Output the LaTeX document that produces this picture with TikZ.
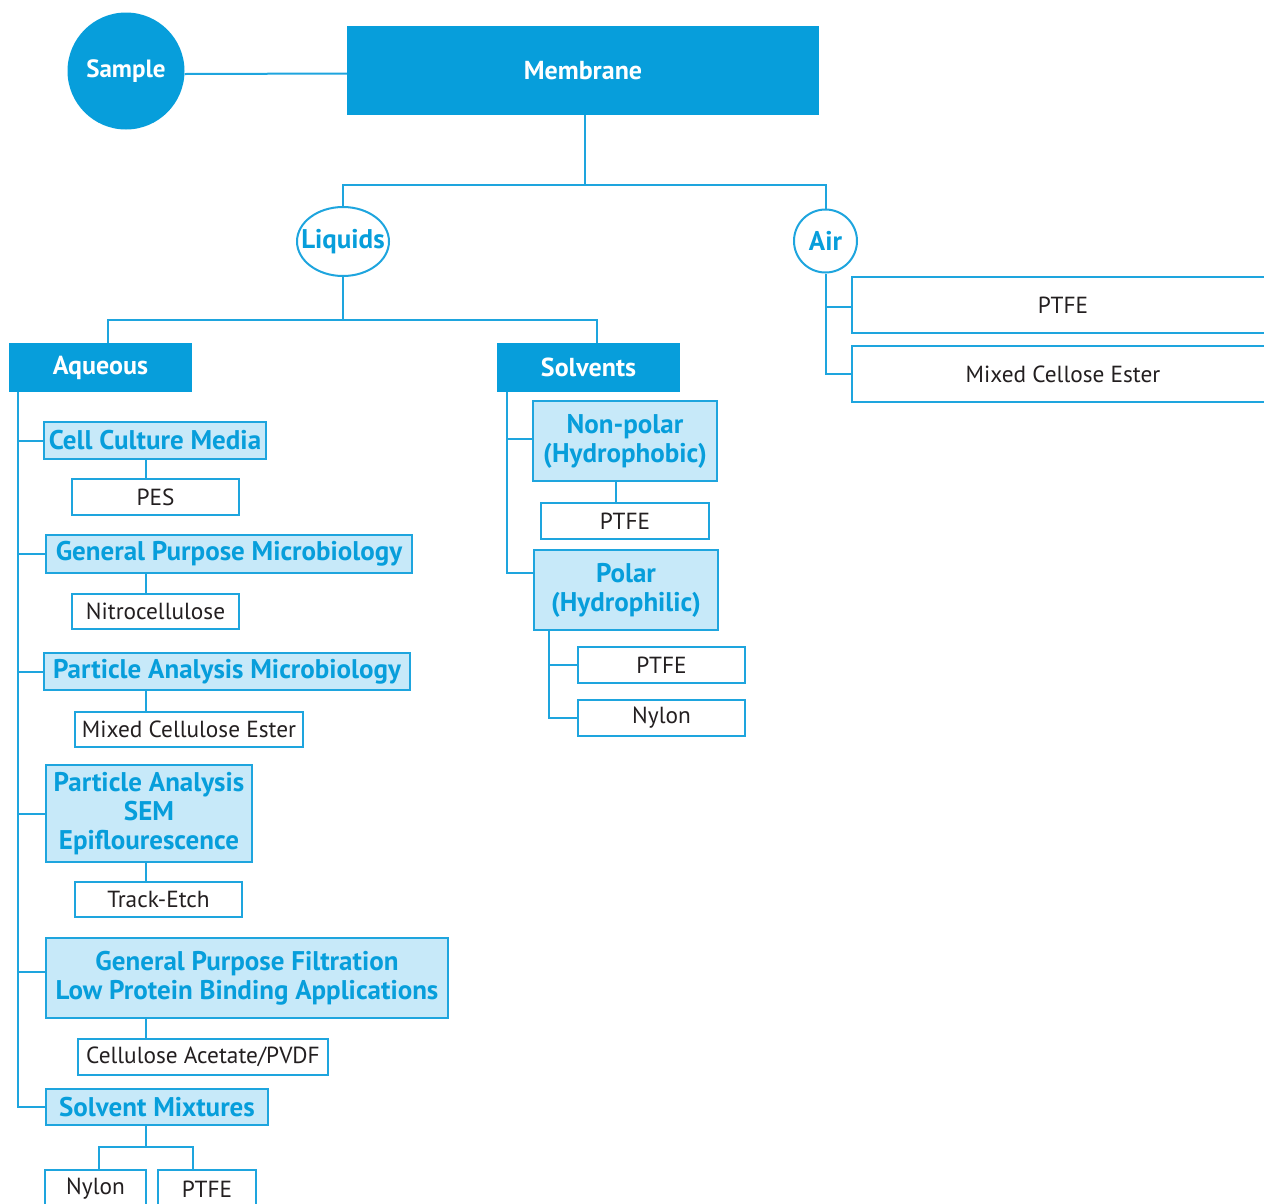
\documentclass[tikz,border=0pt]{standalone}
\usepackage{fontspec}
\setmainfont{PT Sans}
\usetikzlibrary{shapes.geometric}
\definecolor{mblue}{RGB}{7,158,219}
\definecolor{lineblue}{RGB}{30,165,222}
\definecolor{lblue}{RGB}{199,233,249}
\definecolor{txt}{RGB}{35,31,32}
\tikzset{
  conn/.style={draw=lineblue, line width=2pt},
  darkbox/.style={rectangle, fill=mblue, text=white, inner sep=0pt, font=\fontsize{26}{30}\selectfont\bfseries},
  lightbox/.style={rectangle, draw=lineblue, fill=lblue, line width=2pt, text=mblue, inner sep=0pt, align=center, font=\fontsize{27}{29}\selectfont\bfseries},
  whitebox/.style={rectangle, draw=lineblue, fill=white, line width=2pt, text=txt, inner sep=0pt, font=\fontsize{23.3}{28}\selectfont},
  roundnode/.style={draw=lineblue, fill=white, line width=2pt, text=mblue, inner sep=0pt, font=\fontsize{27}{29}\selectfont\bfseries},
}
\begin{document}
\begin{tikzpicture}[x=1pt,y=-1pt]
\useasboundingbox (0,0) rectangle (1264,1203);
\clip (0,0) rectangle (1264,1203);
% top level
\node[circle, fill=mblue, text=white, minimum size=117pt, inner sep=0pt, font=\fontsize{25}{30}\selectfont\bfseries] (sample) at (126,71) {\makebox[0pt]{Sample}};
\node[darkbox, minimum width=472pt, minimum height=89pt] (membrane) at (583,70.5) {Membrane};
\node[roundnode, ellipse, minimum width=92pt, minimum height=69pt] (liquids) at (343,241.5) {\makebox[0pt]{Liquids}};
\node[roundnode, circle, minimum size=63pt] (air) at (825.5,241) {\makebox[0pt]{Air}};
\node[darkbox, minimum width=183pt, minimum height=49pt] (aqueous) at (100.5,367.5) {Aqueous};
\node[darkbox, minimum width=183pt, minimum height=49pt] (solvents) at (588.5,367.5) {Solvents};
% aqueous children
\node[lightbox, minimum width=222pt, minimum height=37pt] (ccm) at (155,440.5) {Cell Culture Media};
\node[whitebox, minimum width=167pt, minimum height=36pt] (pes) at (155.5,497) {PES};
\node[lightbox, minimum width=366pt, minimum height=38pt] (gpm) at (229,554) {General Purpose Microbiology};
\node[whitebox, minimum width=167pt, minimum height=35pt] (nitro) at (155.5,611.5) {Nitrocellulose};
\node[lightbox, minimum width=366pt, minimum height=37pt] (pam) at (227,671.5) {Particle Analysis Microbiology};
\node[whitebox, minimum width=228pt, minimum height=35pt] (mce) at (189,729.5) {Mixed Cellulose Ester};
\node[lightbox, minimum width=206pt, minimum height=97pt] (pasem) at (149,813.5) {Particle Analysis\\SEM\\Epiflourescence};
\node[whitebox, minimum width=167pt, minimum height=35pt] (track) at (158.5,899.5) {Track-Etch};
\node[lightbox, minimum width=402pt, minimum height=80pt] (gpf) at (247,978) {General Purpose Filtration\\Low Protein Binding Applications};
\node[whitebox, minimum width=250pt, minimum height=36pt] (cap) at (203,1057) {Cellulose Acetate/PVDF};
\node[lightbox, minimum width=222pt, minimum height=36pt] (sm) at (157,1107) {Solvent Mixtures};
\node[whitebox, minimum width=101pt, minimum height=38pt] (bnylon) at (95.5,1189) {Nylon};
\node[whitebox, minimum width=98pt, minimum height=38pt] (bptfe) at (207,1189) {PTFE};
% solvents children
\node[lightbox, minimum width=184pt, minimum height=80pt] (nonpolar) at (625,441) {Non-polar\\(Hydrophobic)};
\node[whitebox, minimum width=168pt, minimum height=36pt] (sptfe) at (625,521) {PTFE};
\node[lightbox, minimum width=184pt, minimum height=80pt] (polar) at (626,590) {Polar\\(Hydrophilic)};
\node[whitebox, minimum width=167pt, minimum height=36pt] (pptfe) at (661.5,665) {PTFE};
\node[whitebox, minimum width=167pt, minimum height=36pt] (pnylon) at (661.5,718) {Nylon};
% air children
\node[whitebox, minimum width=422pt, minimum height=56pt] (airptfe) at (1063,305) {PTFE};
\node[whitebox, minimum width=422pt, minimum height=56pt] (airmce) at (1063,374) {Mixed Cellose Ester};
% helper coordinates
\coordinate (xa) at (146,0);
\coordinate (smsplit) at (146,1147);
% connectors
\draw[conn] ([yshift=-3pt]sample.east) -- ([yshift=-3pt]membrane.west);
\draw[conn] ([xshift=2pt]membrane.south) -- ++(0,70) -| (liquids.north);
\draw[conn] ([xshift=2pt]membrane.south) -- ++(0,70) -| (air.north);
\draw[conn] (liquids.south) -- ++(0,43) -| ([xshift=7.5pt]aqueous.north);
\draw[conn] (liquids.south) -- ++(0,43) -| ([xshift=8.5pt]solvents.north);
% aqueous trunk
\draw[conn] ([xshift=9pt]aqueous.south west) |- (ccm.west);
\draw[conn] ([xshift=9pt]aqueous.south west) |- (gpm.west);
\draw[conn] ([xshift=9pt]aqueous.south west) |- (pam.west);
\draw[conn] ([xshift=9pt]aqueous.south west) |- (pasem.west);
\draw[conn] ([xshift=9pt]aqueous.south west) |- ([yshift=6pt]gpf.west);
\draw[conn] ([xshift=9pt]aqueous.south west) |- (sm.west);
\draw[conn] (ccm.south -| xa) -- (pes.north -| xa);
\draw[conn] (gpm.south -| xa) -- (nitro.north -| xa);
\draw[conn] (pam.south -| xa) -- (mce.north -| xa);
\draw[conn] (pasem.south -| xa) -- (track.north -| xa);
\draw[conn] (gpf.south -| xa) -- (cap.north -| xa);
\draw[conn] (sm.south -| xa) -- (smsplit);
\draw[conn] ([xshift=3.5pt]bnylon.north) |- (smsplit) -| ([xshift=-14pt]bptfe.north);
% solvents trunk
\draw[conn] ([xshift=10pt]solvents.south west) |- ([yshift=2pt]nonpolar.west);
\draw[conn] ([xshift=10pt]solvents.south west) |- ([yshift=17pt]polar.west);
\draw[conn] ([xshift=-9pt]nonpolar.south) -- ([xshift=-9pt]nonpolar.south |- sptfe.north);
\draw[conn] ([xshift=16pt]polar.south west) |- (pptfe.west);
\draw[conn] ([xshift=16pt]polar.south west) |- (pnylon.west);
% air trunk
\draw[conn] (air.south) |- ([yshift=-2pt]airptfe.west);
\draw[conn] (air.south) |- (airmce.west);
\end{tikzpicture}
\end{document}
